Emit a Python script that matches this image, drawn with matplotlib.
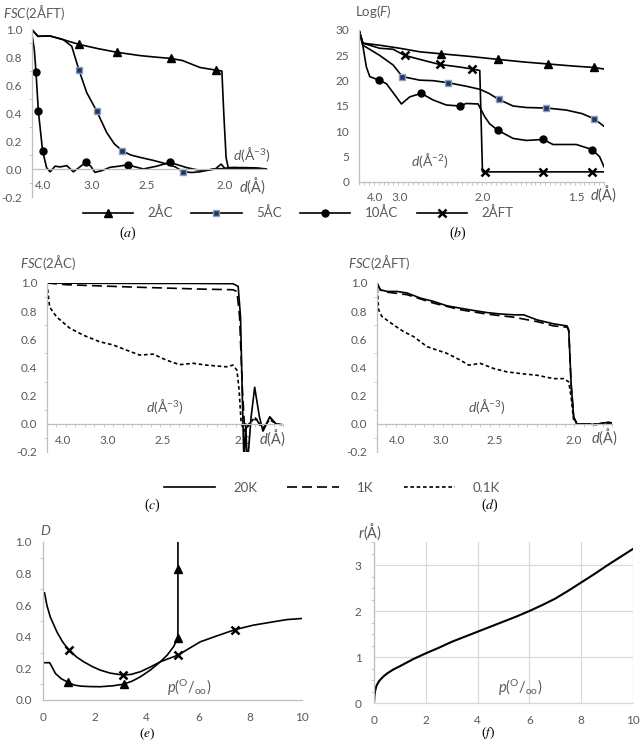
import matplotlib
matplotlib.use('Agg')
import matplotlib.pyplot as plt
import numpy as np
from matplotlib.lines import Line2D
from matplotlib.ticker import MultipleLocator, FormatStrFormatter

plt.rcParams.update({
    'font.family': ['Lato', 'DejaVu Sans'],
    'mathtext.fontset': 'custom',
    'mathtext.rm': 'Lato',
    'mathtext.it': 'Lato:italic',
    'mathtext.bf': 'Lato:bold',
    'axes.unicode_minus': False,
})

# ---------------- data ----------------
# (a) FSC vs 2AFT, x = position along resolution axis (0..100)
a_tick_pos = [4.7, 25.5, 49, 82]
a_tick_lab = ['4.0', '3.0', '2.5', '2.0']
a_2AC_x = [0, 2.5, 7.7, 13.3, 20, 28, 36, 46, 52, 59, 64, 71.5, 78.3, 80.8, 81.6, 82.6, 83.5, 86, 90, 95, 100]
a_2AC_y = [0.995, 0.948, 0.95, 0.924, 0.89, 0.86, 0.834, 0.81, 0.80, 0.79, 0.775, 0.725, 0.706, 0.70, 0.40, 0.08, 0.01, 0.01, 0.01, 0.008, 0.0]
a_2AC_mk = [4, 6, 9, 12]
a_5AC_x = [0, 2.5, 7.7, 13.3, 16.9, 20, 23.3, 27.5, 31.8, 35, 38.4, 42, 46, 52, 57.3, 61, 64.4, 68, 71.5, 77, 85, 92, 100]
a_5AC_y = [0.995, 0.948, 0.95, 0.924, 0.877, 0.706, 0.545, 0.415, 0.26, 0.18, 0.13, 0.10, 0.083, 0.06, 0.036, 0.015, -0.02, -0.025, -0.02, 0.0, 0.005, 0.005, 0.0]
a_5AC_mk = [5, 7, 10, 16]
a_10AC_x = [0, 1.0, 1.7, 2.7, 4.5, 6.2, 7.7, 9.8, 12, 14.8, 17.6, 20, 22.8, 25, 26.8, 30, 33.2, 37, 40.7, 44, 47.4, 53, 58.7, 62, 65.8, 70, 74.3, 78, 80.5, 82, 86, 92, 100]
a_10AC_y = [0.96, 0.85, 0.69, 0.415, 0.13, 0.01, -0.02, 0.02, 0.015, 0.024, -0.02, 0.01, 0.047, 0.02, -0.024, -0.01, 0.012, 0.02, 0.03, 0.015, 0.0, 0.02, 0.047, 0.03, 0.01, -0.005, -0.01, 0.0, 0.035, 0.005, 0.01, 0.005, 0.0]
a_10AC_mk = [2, 3, 4, 12, 18, 22]

# (b) Log(F)
b_tick_pos = [6.4, 16.6, 50.6, 88.7]
b_tick_lab = ['4.0', '3.0', '2.0', '1.5']
b_2AC_x = [0, 1.6, 8.4, 16.6, 24.8, 33.6, 45, 56.7, 67, 77, 87, 96, 100]
b_2AC_y = [30, 27.4, 27.0, 26.4, 25.7, 25.3, 24.8, 24.2, 23.7, 23.3, 22.9, 22.6, 22.3]
b_2AC_mk = [5, 7, 9, 11]
b_2AFT_x = [0, 1.6, 8.4, 13.9, 18.6, 24.8, 32.9, 41, 46.3, 49.3, 50.4, 51.3, 60, 75, 85, 95.2, 100]
b_2AFT_y = [30, 27.4, 26.4, 26.2, 25.0, 24.2, 23.2, 22.7, 22.3, 22.0, 2.0, 2.0, 2.0, 2.0, 2.0, 2.0, 2.0]
b_2AFT_mk = [4, 6, 8, 11, 13, 15]
b_5AC_x = [0, 1.6, 8.4, 13.9, 17.7, 24.8, 30.2, 36.3, 43.8, 49.3, 53, 57, 62.9, 68.3, 76.5, 84.6, 91, 95.9, 100]
b_5AC_y = [30, 27.0, 25.0, 23.1, 20.8, 20.1, 20.0, 19.6, 18.9, 18.3, 17.5, 16.3, 15.0, 14.7, 14.6, 14.2, 13.5, 12.5, 11.0]
b_5AC_mk = [4, 7, 11, 14, 17]
b_10AC_x = [0, 1.6, 3.0, 4.4, 8.2, 11.2, 15.2, 17.3, 20.7, 25.4, 30.2, 35.6, 41.1, 43.8, 48.6, 49.9, 51.3, 53.3, 56.7, 62.9, 68.3, 75.1, 79.2, 88.7, 95.2, 98.2, 100]
b_10AC_y = [30, 26.8, 22.7, 20.8, 20.1, 19.4, 16.8, 15.4, 16.8, 17.5, 16.2, 15.2, 15.0, 15.5, 15.4, 14.2, 12.9, 11.5, 10.2, 8.6, 8.2, 8.4, 7.4, 7.4, 6.4, 5.0, 3.0]
b_10AC_mk = [4, 9, 12, 18, 21, 24]

# (c) FSC vs 2AC
c_tick_pos = [6.8, 25.8, 49.2, 83]
c_tick_lab = ['4.0', '3.0', '2.5', '2.0']
c_20K_x = [0, 20, 40, 60, 78.8, 81.0, 82.0, 82.8, 83.5, 84.2, 84.9, 86.5, 88.0, 90, 91.5, 94.4, 97, 99.3]
c_20K_y = [1.0, 0.998, 0.997, 0.997, 0.995, 0.976, 0.76, 0.17, -0.3, 0.0, -0.3, 0.05, 0.26, 0.05, -0.05, 0.05, 0.0, -0.005]
c_1K_x = [0, 8, 36.4, 64.7, 78.8, 80.5, 81.6, 82.8, 83.8, 85.5, 88.7, 91.5, 94.4, 97, 99.3]
c_1K_y = [1.0, 0.988, 0.971, 0.957, 0.952, 0.94, 0.76, 0.24, -0.05, 0.0, 0.035, -0.05, 0.045, 0.0, -0.005]
c_01K_x = [0, 1.1, 4, 9.6, 15.3, 22.3, 28, 33.6, 39.3, 45, 50.6, 56.2, 61.9, 67.5, 76, 78.8, 80.5, 81.4, 82.3, 83.8, 86, 88, 91.5, 94.4, 97, 99.3]
c_01K_y = [1.0, 0.83, 0.76, 0.68, 0.63, 0.583, 0.56, 0.524, 0.488, 0.495, 0.452, 0.42, 0.43, 0.417, 0.405, 0.417, 0.38, 0.24, 0.0, -0.05, 0.0, 0.048, -0.03, 0.03, 0.0, -0.005]

# (d) FSC vs 2AFT
d_tick_pos = [8.5, 27, 50, 83.7]
d_tick_lab = ['4.0', '3.0', '2.5', '2.0']
d_20K_x = [0, 1.4, 4.3, 8.5, 12.8, 18.4, 24.1, 29.8, 35.5, 41.1, 46.8, 52.5, 58.2, 62.4, 68.1, 75.2, 80.9, 81.6, 82.6, 83.7, 85.1, 89, 93, 96, 98.6, 100]
d_20K_y = [1.0, 0.952, 0.94, 0.94, 0.929, 0.893, 0.869, 0.838, 0.821, 0.805, 0.79, 0.78, 0.774, 0.774, 0.738, 0.71, 0.695, 0.667, 0.286, 0.048, 0.0, 0.0, -0.005, 0.005, 0.012, 0.005]
d_1K_x = [0, 1.4, 4.3, 12.8, 24.1, 35.5, 46.8, 58.2, 68.1, 75.2, 80.9, 81.6, 82.6, 83.7, 85.1, 89, 93, 96, 98.6, 100]
d_1K_y = [1.0, 0.95, 0.935, 0.917, 0.857, 0.81, 0.779, 0.757, 0.726, 0.695, 0.686, 0.66, 0.28, 0.045, 0.0, 0.0, -0.005, 0.005, 0.01, 0.005]
d_01K_x = [0, 0.7, 2.1, 7.1, 11.3, 15.6, 21.3, 25.5, 29.8, 35.5, 39, 44, 49.6, 55.3, 61, 68.1, 75.2, 79.4, 81.6, 82.6, 83.7, 85.1, 90, 95, 100]
d_01K_y = [1.0, 0.81, 0.762, 0.702, 0.655, 0.619, 0.548, 0.524, 0.5, 0.452, 0.417, 0.429, 0.393, 0.369, 0.357, 0.345, 0.321, 0.321, 0.298, 0.19, 0.024, 0.0, 0.0, 0.0, 0.005]

# (e) D vs p
e_FT_x = [0.06, 0.15, 0.28, 0.54, 0.75, 0.99, 1.3, 1.57, 1.9, 2.21, 2.6, 3.09, 3.4, 3.76, 4.1, 4.53, 5.21, 5.6, 6.07, 6.7, 7.43, 8.13, 8.9, 9.42, 10]
e_FT_y = [0.678, 0.60, 0.526, 0.43, 0.37, 0.316, 0.272, 0.242, 0.212, 0.189, 0.170, 0.158, 0.162, 0.179, 0.205, 0.242, 0.284, 0.322, 0.368, 0.405, 0.446, 0.474, 0.495, 0.509, 0.516]
e_FT_mk = [5, 11, 16, 20]
e_C_x = [0.06, 0.26, 0.48, 0.7, 0.97, 1.2, 1.44, 1.8, 2.21, 2.7, 3.11, 3.45, 3.76, 4.15, 4.53, 4.8, 5.04, 5.2, 5.21, 5.21, 5.21]
e_C_y = [0.236, 0.236, 0.168, 0.135, 0.112, 0.095, 0.088, 0.085, 0.084, 0.09, 0.1, 0.12, 0.147, 0.19, 0.242, 0.285, 0.337, 0.39, 0.44, 0.83, 1.0]
e_C_mk = [4, 10, 17, 19]

# (f) r vs p
f_x = [0, 0.02, 0.05, 0.1, 0.2, 0.35, 0.5, 0.75, 1.0, 1.5, 2.0, 2.5, 3.0, 3.5, 4.0, 4.5, 5.0, 5.5, 6.0, 6.5, 7.0, 7.5, 8.0, 8.5, 9.0, 9.5, 10]
f_y = [0, 0.17, 0.28, 0.38, 0.48, 0.57, 0.64, 0.73, 0.8, 0.95, 1.08, 1.2, 1.33, 1.44, 1.55, 1.66, 1.77, 1.88, 2.0, 2.13, 2.27, 2.44, 2.62, 2.8, 2.99, 3.17, 3.35]

# ---------------- style ----------------
W, H = 640, 742
GRAY = '#595959'
AXC = '#BFBFBF'
GRID = '#D9D9D9'
TFS = 8.5
LW = 1.2

TRI = dict(marker='^', ms=5.5, mfc='black', mec='black')
SQ = dict(marker='s', ms=5, mfc='#1F3864', mec='#8EA0BC', mew=1)
CIR = dict(marker='o', ms=5, mfc='black', mec='black')
XM = dict(marker='x', ms=5.5, mew=1.8, mec='black')
DASH = (0, (6, 3))
DOT = (0, (2.2, 1.6))

fig = plt.figure(figsize=(W / 100, H / 100), dpi=100)


def ax_px(left, right, top, bottom):
    return fig.add_axes([left / W, 1 - bottom / H, (right - left) / W, (bottom - top) / H])


def ftext(x, y, s, **kw):
    kw.setdefault('va', 'center')
    kw.setdefault('color', GRAY)
    return fig.text(x / W, 1 - y / H, s, **kw)


def base_style(ax):
    for s in ['top', 'right']:
        ax.spines[s].set_visible(False)
    for s in ['left', 'bottom']:
        ax.spines[s].set_color(AXC)
        ax.spines[s].set_linewidth(0.9)
    ax.tick_params(colors=GRAY, labelsize=TFS, which='both')
    ax.patch.set_alpha(0)


def fsc_axes(ax, tpos, tlab, minor_step=None, xpad=6):
    base_style(ax)
    ax.set_xlim(0, 100)
    ax.set_ylim(-0.2, 1.0)
    ax.spines['bottom'].set_position(('data', 0))
    ax.set_yticks(np.round(np.arange(-0.2, 1.01, 0.2), 1))
    ax.yaxis.set_major_formatter(FormatStrFormatter('%.1f'))
    ax.set_xticks(tpos, tlab)
    ax.tick_params(axis='x', which='major', length=0, pad=xpad)
    ax.tick_params(axis='y', which='major', length=0, pad=7)
    ax.yaxis.set_minor_locator(MultipleLocator(0.1))
    ax.tick_params(axis='y', which='minor', length=2.5, color=AXC, direction='out')
    if minor_step:
        ax.xaxis.set_minor_locator(MultipleLocator(minor_step))
        ax.tick_params(axis='x', which='minor', length=2.5, color=AXC, direction='out')


def panel_label(x, y, letter, fs=10):
    ftext(x, y, r'($\mathit{' + letter + r'}$)', fontsize=fs, ha='center', color='black',
          family='Liberation Serif', math_fontfamily='stix')


# ---------------- (a) ----------------
axa = ax_px(32, 267, 29, 197)
fsc_axes(axa, a_tick_pos, a_tick_lab, None, xpad=8)
axa.plot(a_2AC_x, a_2AC_y, color='black', lw=LW, markevery=a_2AC_mk, **TRI)
axa.plot(a_5AC_x, a_5AC_y, color='black', lw=LW, markevery=a_5AC_mk, **SQ)
axa.plot(a_10AC_x, a_10AC_y, color='black', lw=LW, markevery=a_10AC_mk, **CIR)
ftext(3, 12, r'$\mathit{FSC}$(2ÅFT)', fontsize=9.5, ha='left')
ftext(252, 155, r'$\mathit{d}$(Å$^{-3}$)', fontsize=10, ha='center')
ftext(252, 186, r'$\mathit{d}$(Å)', fontsize=10.5, ha='center')

# ---------------- (b) ----------------
axb = ax_px(359, 604, 30, 182)
base_style(axb)
axb.set_xlim(0, 100)
axb.set_ylim(0, 30)
axb.set_yticks(np.arange(0, 31, 5))
axb.set_xticks(b_tick_pos, b_tick_lab)
axb.tick_params(axis='x', which='major', length=0, pad=7.5)
axb.tick_params(axis='y', which='major', length=0, pad=7)
axb.xaxis.set_minor_locator(MultipleLocator(2))
axb.tick_params(axis='x', which='minor', length=2.5, color=AXC, direction='out')
axb.plot(b_2AC_x, b_2AC_y, color='black', lw=LW, markevery=b_2AC_mk, **TRI)
axb.plot(b_2AFT_x, b_2AFT_y, color='black', lw=LW, markevery=b_2AFT_mk, **XM)
axb.plot(b_5AC_x, b_5AC_y, color='black', lw=LW, markevery=b_5AC_mk, **SQ)
axb.plot(b_10AC_x, b_10AC_y, color='black', lw=LW, markevery=b_10AC_mk, **CIR)
ftext(355, 12, r'Log($\mathit{F}$)', fontsize=9.5, ha='left')
ftext(430, 160, r'$\mathit{d}$(Å$^{-2}$)', fontsize=10, ha='center')
ftext(603, 194, r'$\mathit{d}$(Å)', fontsize=10.5, ha='center')

# legend a/b
hab = [Line2D([], [], color='black', lw=LW, **TRI),
       Line2D([], [], color='black', lw=LW, **SQ),
       Line2D([], [], color='black', lw=LW, **CIR),
       Line2D([], [], color='black', lw=LW, **XM)]
fig.legend(hab, ['2ÅC', '5ÅC', '10ÅC', '2ÅFT'], ncol=4, frameon=False,
           loc='center', bbox_to_anchor=(298 / W, 1 - 213 / H), fontsize=9.5,
           handlelength=3.8, handletextpad=1.1, columnspacing=1.4, labelcolor=GRAY,
           borderpad=0, borderaxespad=0)
panel_label(128, 233, 'a')
panel_label(458, 233, 'b')

# ---------------- (c) ----------------
axc = ax_px(47, 283, 283, 452)
fsc_axes(axc, c_tick_pos, c_tick_lab, 4, xpad=8)
axc.plot(c_20K_x, c_20K_y, color='black', lw=LW)
axc.plot(c_1K_x, c_1K_y, color='black', lw=LW, ls=DASH)
axc.plot(c_01K_x, c_01K_y, color='black', lw=LW, ls=DOT)
ftext(20, 262, r'$\mathit{FSC}$(2ÅC)', fontsize=9.5, ha='left')
ftext(165, 407, r'$\mathit{d}$(Å$^{-3}$)', fontsize=10, ha='center')
ftext(272, 438, r'$\mathit{d}$(Å)', fontsize=10.5, ha='center')

# ---------------- (d) ----------------
axd = ax_px(377, 612, 283, 452)
fsc_axes(axd, d_tick_pos, d_tick_lab, 4, xpad=8)
axd.plot(d_20K_x, d_20K_y, color='black', lw=LW)
axd.plot(d_1K_x, d_1K_y, color='black', lw=LW, ls=DASH)
axd.plot(d_01K_x, d_01K_y, color='black', lw=LW, ls=DOT)
ftext(348, 262, r'$\mathit{FSC}$(2ÅFT)', fontsize=9.5, ha='left')
ftext(487, 407, r'$\mathit{d}$(Å$^{-3}$)', fontsize=10, ha='center')
ftext(604, 437, r'$\mathit{d}$(Å)', fontsize=10.5, ha='center')

hcd = [Line2D([], [], color='black', lw=LW),
       Line2D([], [], color='black', lw=LW, ls=DASH),
       Line2D([], [], color='black', lw=LW, ls=DOT)]
fig.legend(hcd, ['20K', '1K', '0.1K'], ncol=3, frameon=False,
           loc='center', bbox_to_anchor=(332 / W, 1 - 488 / H), fontsize=9.5,
           handlelength=3.9, handletextpad=1.35, columnspacing=2.3, labelcolor=GRAY,
           borderpad=0, borderaxespad=0)
panel_label(152, 505, 'c')
panel_label(490, 505, 'd')

# ---------------- (e) ----------------
axe = ax_px(43, 302, 542, 700)
base_style(axe)
axe.set_xlim(0, 10)
axe.set_ylim(0, 1.0)
axe.set_xticks(np.arange(0, 11, 2))
axe.set_yticks(np.round(np.arange(0, 1.01, 0.2), 1))
axe.yaxis.set_major_formatter(FormatStrFormatter('%.1f'))
axe.tick_params(axis='x', which='major', length=0, pad=8.5)
axe.tick_params(axis='y', which='major', length=0, pad=8)
axe.yaxis.set_minor_locator(MultipleLocator(0.1))
axe.tick_params(axis='y', which='minor', length=2.5, color=AXC, direction='out')
axe.plot(e_FT_x, e_FT_y, color='black', lw=LW, markevery=e_FT_mk, **XM)
axe.plot(e_C_x, e_C_y, color='black', lw=LW, markevery=e_C_mk, **TRI)
ftext(40, 530, r'$\mathit{D}$', fontsize=10, ha='left')
ftext(189, 688, r'$\mathit{p}$($^{\mathrm{O}}$/$_{\mathrm{oo}}$)', fontsize=10.5, ha='center')
panel_label(147, 734, 'e', fs=9.5)

# ---------------- (f) ----------------
axf = ax_px(374, 633, 542, 703)
base_style(axf)
axf.set_xlim(0, 10)
axf.set_ylim(0, 3.5)
axf.set_xticks(np.arange(0, 11, 2))
axf.set_yticks([0, 1, 2, 3])
axf.grid(True, color=GRID, lw=0.9)
axf.set_axisbelow(True)
axf.spines['bottom'].set_color(GRID)
axf.tick_params(axis='x', which='major', length=0, pad=8.5)
axf.tick_params(axis='y', which='major', length=0, pad=9)
axf.yaxis.set_minor_locator(MultipleLocator(0.25))
axf.tick_params(axis='y', which='minor', length=2.5, color=AXC, direction='out')
axf.plot(f_x, f_y, color='black', lw=1.5)
ftext(370, 532, r'$\mathit{r}$(Å)', fontsize=10.5, ha='center')
ftext(520, 688, r'$\mathit{p}$($^{\mathrm{O}}$/$_{\mathrm{oo}}$)', fontsize=10.5, ha='center')
panel_label(488, 733, 'f', fs=9.5)

fig.savefig('out.png', dpi=100)
